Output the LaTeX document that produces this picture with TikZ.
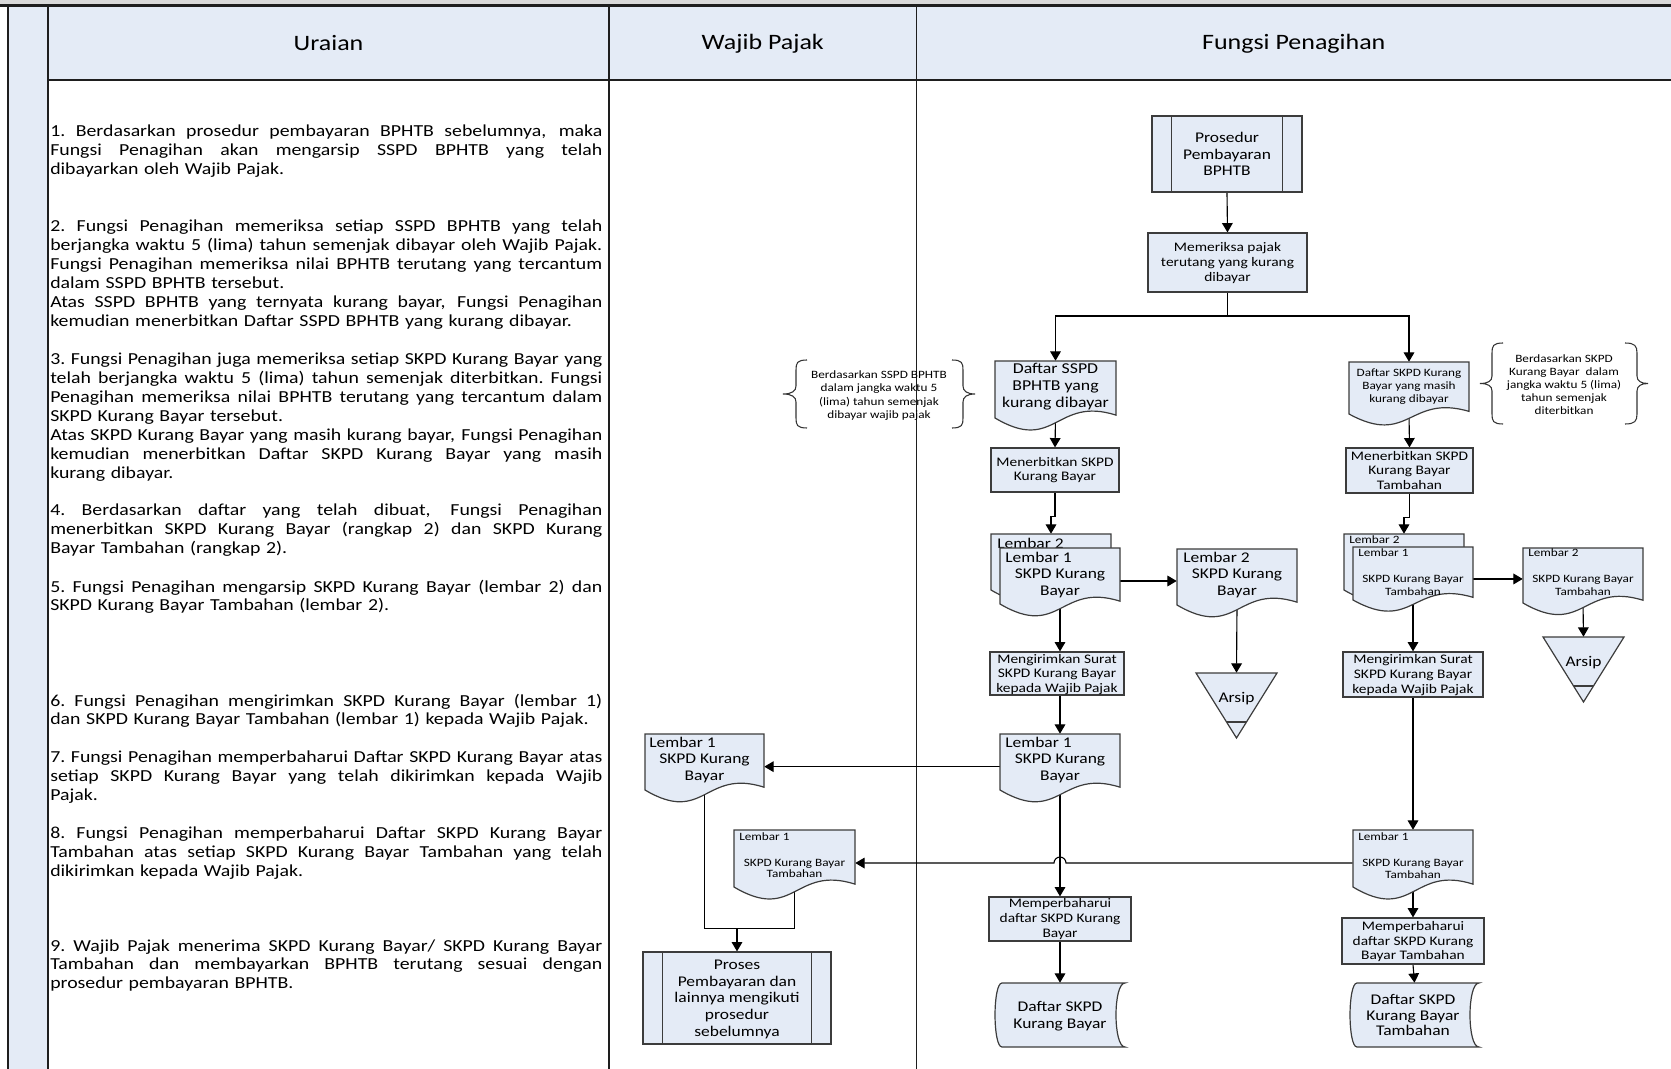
\documentclass[tikz,border=0pt]{standalone}
\usepackage{fontspec}
\setmainfont{Carlito}[FakeStretch=1.18]
\usetikzlibrary{arrows.meta,fit,calc}
\definecolor{boxfill}{RGB}{228,235,246}
\definecolor{lanecol}{RGB}{30,30,30}
\definecolor{shpcol}{RGB}{60,60,60}
\pgfdeclarelayer{bg}\pgfdeclarelayer{conn}\pgfsetlayers{bg,conn,main}
\newcommand\myHead{\fontsize{16.5}{20}\selectfont}
\newcommand\myBody{\fontsize{12.6}{14.14}\selectfont}
\newcommand\myMid{\fontsize{9.8}{11}\selectfont}
\newcommand\myBig{\fontsize{11.1}{12.5}\selectfont}
\newcommand\myTiny{\fontsize{8.4}{9.8}\selectfont}
\newcommand\JL[1]{\leavevmode\hbox to \linewidth{\spaceskip=0.15em plus 1fil\xspaceskip=0.15em plus 1fil\relax #1}}
\tikzset{
  shp/.style={draw=shpcol, fill=boxfill, line width=0.9pt},
  boxst/.style={shp, inner sep=0pt},
  inv/.style={inner sep=0pt, draw=none},
  lane/.style={draw=lanecol, line width=1.2pt},
  arr/.style={draw=black, line width=0.85pt, -{Triangle[length=7pt,width=8pt]}},
  cline/.style={draw=black, line width=0.85pt},
  lbl/.style={inner sep=0pt, align=center},
  lblw/.style={inner sep=0pt, anchor=west},
  item/.style={anchor=base west, inner sep=0pt, text width=414pt, align=left, font=\myBody},
  brc/.style={draw=black!80, line width=0.8pt},
  hdr/.style={inner sep=0pt, font=\myHead}
}
\newcommand\DocShape[5]{%
  \path[shp] (#2,#4) -- (#3,#4) -- (#3,{#5-0.05*(#5-#4)}) .. controls ({(#2+#3)/2},{#5-0.39*(#5-#4)}) and ({(#2+#3)/2},{#5+0.63*(#5-#4)}) .. (#2,#5) -- cycle;
  \node[inv, fit={(#2,#4) (#3,#5)}] (#1) {};
}
\newcommand\ArsipShape[6]{%
  \path[shp] (#2,#4) -- (#3,#4) -- ({(#2+#3)/2},#5) -- cycle;
  \draw[draw=shpcol, line width=0.9pt] ({(#2+#3)/2-(#3-#2)/2*(#5-#6)/(#5-#4)},#6) -- ({(#2+#3)/2+(#3-#2)/2*(#5-#6)/(#5-#4)},#6);
  \node[inv, fit={(#2,#4) (#3,#5)}] (#1) {};
}
\newcommand\StoredShape[5]{%
  \path[shp] ({#2+7},#4) -- (#3,#4) .. controls ({#3-12},#4) and ({#3-12},#5) .. (#3,#5) -- ({#2+7},#5) .. controls ({#2-2.3},#5) and ({#2-2.3},#4) .. ({#2+7},#4) -- cycle;
  \node[inv, fit={(#2,#4) (#3,#5)}] (#1) {};
}
\begin{document}
\begin{tikzpicture}[x=0.75pt,y=-0.75pt]
\useasboundingbox (0,0) rectangle (1671,1069);
\begin{pgfonlayer}{bg}
  \fill[black!15] (0,0) rectangle (1671,5);
  \fill[boxfill] (8,5) rectangle (48,1069);
  \fill[boxfill] (48,5) rectangle (1671,80);
  \draw[lane] (48,80) -- (1671,80);
  \draw[lane] (8,5) -- (8,1069);
  \draw[lane] (48,5) -- (48,1069);
  \draw[lane] (609,5) -- (609,1069);
  \draw[lane] (916.5,5) -- (916.5,1069);
  \draw[lane, line width=1.6pt] (0,5.5) -- (1671,5.5);
\end{pgfonlayer}

% headers
\node[hdr] (hU) at (328.5,43.5) {Uraian};
\node[hdr] (hW) at (762.75,43.5) {Wajib Pajak};
\node[hdr] (hF) at (1293.75,43.5) {Fungsi Penagihan};

% Uraian items
\node[item] (i1) at (50,137) {\JL{1. Berdasarkan prosedur pembayaran BPHTB sebelumnya, maka}\\\JL{Fungsi Penagihan akan mengarsip SSPD BPHTB yang telah}\\dibayarkan oleh Wajib Pajak.};
\node[item] (i2) at (50,232) {\JL{2. Fungsi Penagihan memeriksa setiap SSPD BPHTB yang telah}\\\JL{berjangka waktu 5 (lima) tahun semenjak dibayar oleh Wajib Pajak.}\\\JL{Fungsi Penagihan memeriksa nilai BPHTB terutang yang tercantum}\\dalam SSPD BPHTB tersebut.\\\JL{Atas SSPD BPHTB yang ternyata kurang bayar, Fungsi Penagihan}\\kemudian menerbitkan Daftar SSPD BPHTB yang kurang dibayar.};
\node[item] (i3) at (50,365) {\JL{3. Fungsi Penagihan juga memeriksa setiap SKPD Kurang Bayar yang}\\\JL{telah berjangka waktu 5 (lima) tahun semenjak diterbitkan. Fungsi}\\\JL{Penagihan memeriksa nilai BPHTB terutang yang tercantum dalam}\\SKPD Kurang Bayar tersebut.\\\JL{Atas SKPD Kurang Bayar yang masih kurang bayar, Fungsi Penagihan}\\\JL{kemudian menerbitkan Daftar SKPD Kurang Bayar yang masih}\\kurang dibayar.};
\node[item] (i4) at (50,516) {\JL{4. Berdasarkan daftar yang telah dibuat, Fungsi Penagihan}\\\JL{menerbitkan SKPD Kurang Bayar (rangkap 2) dan SKPD Kurang}\\Bayar Tambahan (rangkap 2).};
\node[item] (i5) at (50,592) {\JL{5. Fungsi Penagihan mengarsip SKPD Kurang Bayar (lembar 2) dan}\\SKPD Kurang Bayar Tambahan (lembar 2).};
\node[item] (i6) at (50,706) {\JL{6. Fungsi Penagihan mengirimkan SKPD Kurang Bayar (lembar 1)}\\dan SKPD Kurang Bayar Tambahan (lembar 1) kepada Wajib Pajak.};
\node[item] (i7) at (50,762.5) {\JL{7. Fungsi Penagihan memperbaharui Daftar SKPD Kurang Bayar atas}\\\JL{setiap SKPD Kurang Bayar yang telah dikirimkan kepada Wajib}\\Pajak.};
\node[item] (i8) at (50,838.5) {\JL{8. Fungsi Penagihan memperbaharui Daftar SKPD Kurang Bayar}\\\JL{Tambahan atas setiap SKPD Kurang Bayar Tambahan yang telah}\\dikirimkan kepada Wajib Pajak.};
\node[item] (i9) at (50,951) {\JL{9. Wajib Pajak menerima SKPD Kurang Bayar/ SKPD Kurang Bayar}\\\JL{Tambahan dan membayarkan BPHTB terutang sesuai dengan}\\prosedur pembayaran BPHTB.};

% Fungsi Penagihan top
\node[boxst, fit={(1152,116) (1302,192)}] (pros) {};
\draw[draw=shpcol, line width=0.9pt] ([xshift=15pt]pros.north west) -- ([xshift=15pt]pros.south west);
\draw[draw=shpcol, line width=0.9pt] ([xshift=-15pt]pros.north east) -- ([xshift=-15pt]pros.south east);
\node[lbl, font=\myBig] (prosT) at (1227,154) {Prosedur\\Pembayaran\\BPHTB};
\node[boxst, fit={(1148,233) (1307,292)}] (mem) {};
\node[lbl, font=\fontsize{9.8}{11.5}\selectfont] (memT) at (1227.5,263) {Memeriksa pajak\\terutang yang kurang\\dibayar};

% braces
\draw[brc] (807,360) .. controls (797,360) and (796,363) .. (796,370) -- (796,386) .. controls (796,391) and (792,394) .. (783,394) .. controls (792,394) and (796,397) .. (796,402) -- (796,418) .. controls (796,425) and (797,428) .. (807,428);
\draw[brc] (952,360) .. controls (962,360) and (963,363) .. (963,370) -- (963,386) .. controls (963,391) and (967,394) .. (975,394) .. controls (967,394) and (963,397) .. (963,402) -- (963,418) .. controls (963,425) and (962,428) .. (952,428);
\node[lbl, font=\fontsize{8.4}{9.9}\selectfont] (bt1) at (879,395.5) {Berdasarkan SSPD BPHTB\\dalam jangka waktu 5\\(lima) tahun semenjak\\dibayar wajib pajak};
\draw[brc] (1503,343) .. controls (1493,343) and (1492,346) .. (1492,353) -- (1492,376) .. controls (1492,381) and (1488,383.5) .. (1480,383.5) .. controls (1488,383.5) and (1492,386) .. (1492,391) -- (1492,414) .. controls (1492,421) and (1493,424) .. (1503,424);
\draw[brc] (1625,343) .. controls (1635,343) and (1637,346) .. (1637,353) -- (1637,376) .. controls (1637,381) and (1641,383.5) .. (1648,383.5) .. controls (1641,383.5) and (1637,386) .. (1637,391) -- (1637,414) .. controls (1637,421) and (1635,424) .. (1625,424);
\node[lbl, font=\fontsize{8.4}{9.7}\selectfont] (bt2) at (1564,384.5) {Berdasarkan SKPD\\Kurang Bayar\ \ dalam\\jangka waktu 5 (lima)\\tahun semenjak\\diterbitkan};

% daftar documents
\DocShape{dsspd}{995}{1116}{361}{418}
\node[lbl, font=\fontsize{11.3}{12.75}\selectfont] (dsspdT) at (1055.5,386.5) {Daftar SSPD\\BPHTB yang\\kurang dibayar};
\DocShape{dskpd}{1349}{1469}{362}{414}
\node[lbl, font=\myTiny] (dskpdT) at (1409,386.5) {Daftar SKPD Kurang\\Bayar yang masih\\kurang dibayar};

% menerbitkan
\node[boxst, fit={(991,448) (1119,492)}] (menL) {};
\node[lbl, font=\fontsize{9.8}{10.4}\selectfont] (menLT) at (1055,470) {Menerbitkan SKPD\\Kurang Bayar};
\node[boxst, fit={(1346,448) (1473,493)}] (menR) {};
\node[lbl, font=\myMid] (menRT) at (1409.5,470.5) {Menerbitkan SKPD\\Kurang Bayar\\Tambahan};

% stacked left
\DocShape{backL}{991}{1111}{534}{590}
\node[lblw, font=\myBig] at (997,543.5) {Lembar 2};
\DocShape{frontL}{1000}{1120}{548}{604}
\node[lblw, font=\myBig] at (1005,557.5) {Lembar 1};
\node[lbl, font=\myBig] at (1060,583.3) {SKPD Kurang\\Bayar};
\DocShape{l2L}{1177}{1297}{549}{605}
\node[lblw, font=\myBig] at (1183,557.5) {Lembar 2};
\node[lbl, font=\myBig] at (1237,583.3) {SKPD Kurang\\Bayar};
\ArsipShape{arsL}{1196}{1277}{673}{738}{722}
\node[lbl, font=\myBig] (arsLt) at (1236.5,699) {Arsip};

% stacked right
\DocShape{backR}{1344}{1464}{534}{590}
\node[lblw, font=\myTiny] at (1349,540) {Lembar 2};
\DocShape{frontR}{1353}{1473}{547}{600}
\node[lblw, font=\myTiny] at (1358,553) {Lembar 1};
\node[lbl, font=\fontsize{8.4}{9.75}\selectfont] at (1413,585) {SKPD Kurang Bayar\\Tambahan};
\DocShape{l2R}{1523}{1643}{548}{603}
\node[lblw, font=\myTiny] at (1528,553) {Lembar 2};
\node[lbl, font=\fontsize{8.4}{9.75}\selectfont] at (1583,585.5) {SKPD Kurang Bayar\\Tambahan};
\ArsipShape{arsR}{1543}{1624}{637}{702}{686}
\node[lbl, font=\myBig] (arsRt) at (1583.5,662.7) {Arsip};

% mengirimkan
\node[boxst, fit={(990,652) (1124,695)}] (mgL) {};
\node[lbl, font=\myMid] (mgLT) at (1057,674.5) {Mengirimkan Surat\\SKPD Kurang Bayar\\kepada Wajib Pajak};
\node[boxst, fit={(1343,652) (1483,697)}] (mgR) {};
\node[lbl, font=\myMid] (mgRT) at (1413,675) {Mengirimkan Surat\\SKPD Kurang Bayar\\kepada Wajib Pajak};

% lembar 1 docs
\DocShape{fpl1}{1000}{1120}{734}{790}
\node[lblw, font=\myBig] at (1005,742.5) {Lembar 1};
\node[lbl, font=\myBig] at (1060,768.2) {SKPD Kurang\\Bayar};
\DocShape{wpl1}{645}{764}{734}{790}
\node[lblw, font=\myBig] at (649,742.5) {Lembar 1};
\node[lbl, font=\myBig] at (704.5,768.2) {SKPD Kurang\\Bayar};
\DocShape{fpr}{1353}{1473}{830}{887}
\node[lblw, font=\myTiny] at (1358,836.5) {Lembar 1};
\node[lbl, font=\fontsize{8.4}{8.8}\selectfont] at (1413,869) {SKPD Kurang Bayar\\Tambahan};
\DocShape{wpt}{734}{855}{830}{887}
\node[lblw, font=\myTiny] at (739,836.5) {Lembar 1};
\node[lbl, font=\fontsize{8.4}{8.8}\selectfont] at (794.5,868.5) {SKPD Kurang Bayar\\Tambahan};

% memperbaharui
\node[boxst, fit={(989,897) (1131,941)}] (mem1) {};
\node[lbl, font=\fontsize{9.8}{11.25}\selectfont] (mem1T) at (1060,919.3) {Memperbaharui\\daftar SKPD Kurang\\Bayar};
\node[boxst, fit={(1342,918) (1484,964)}] (mem2) {};
\node[lbl, font=\myMid] (mem2T) at (1413,941.8) {Memperbaharui\\daftar SKPD Kurang\\Bayar Tambahan};

% stored data
\StoredShape{dL}{995}{1125}{983}{1047}
\node[lbl, font=\myBig] (dLT) at (1060,1016) {Daftar SKPD\\Kurang Bayar};
\StoredShape{dR}{1350}{1479}{983}{1047}
\node[lbl, font=\fontsize{11.1}{11.9}\selectfont] (dRT) at (1413,1015) {Daftar SKPD\\Kurang Bayar\\Tambahan};

% proses (Wajib Pajak)
\node[boxst, fit={(643,952) (831,1044)}] (proses) {};
\draw[draw=shpcol, line width=0.9pt] ([xshift=15pt]proses.north west) -- ([xshift=15pt]proses.south west);
\draw[draw=shpcol, line width=0.9pt] ([xshift=-15pt]proses.north east) -- ([xshift=-15pt]proses.south east);
\node[lbl, font=\fontsize{11.1}{12.6}\selectfont] (prosesT) at (737,999.3) {Proses\\Pembayaran dan\\lainnya mengikuti\\prosedur\\sebelumnya};

% connectors
\begin{pgfonlayer}{conn}
  \draw[arr] (pros.south) -- (mem.north);
  \coordinate (sp) at (1227.5,316);
  \draw[cline] (mem.south) -- (sp);
  \draw[arr] (sp) -| (dsspd.north);
  \draw[arr] (sp) -| (dskpd.north);
  \draw[arr] (dsspd.south) -- (menL.north);
  \draw[arr] (dskpd.south) -- (menR.north);
  \draw[arr] (menL.south) -- ++(0,24) -| (backL.north);
  \draw[arr] (menR.south) -- ++(0,24) -| (backR.north);
  \coordinate (a1) at ([yshift=-3.75pt]frontL.east);
  \draw[arr] (a1) -- (a1 -| l2L.west);
  \draw[arr] (l2L.south) -- (arsL.north);
  \coordinate (a2) at ([yshift=-4.1pt]frontR.east);
  \draw[arr] (a2) -- (a2 -| l2R.west);
  \draw[arr] (l2R.south) -- (arsR.north);
  \draw[arr] (frontL.south) -- (frontL.south |- mgL.north);
  \draw[arr] (frontR.south) -- (frontR.south |- mgR.north);
  \draw[arr] (fpl1.north |- mgL.south) -- (fpl1.north);
  \draw[arr] (mgR.south) -- (fpr.north);
  \coordinate (a3) at ([yshift=-3.5pt]fpl1.west);
  \draw[arr] (a3) -- (a3 -| wpl1.east);
  \draw[arr] (fpl1.south) -- (mem1.north);
  \draw[arr] (mem1.south) -- (dL.north);
  \draw[arr] (fpr.south) -- (mem2.north);
  \draw[arr] (mem2.south) -- (dR.north);
  \coordinate (a4) at ([yshift=-3.4pt]fpr.west);
  \coordinate (hop) at (a4 -| fpl1.south);
  \draw[arr] (a4) -- ([xshift=4.5pt]hop) arc[start angle=0,end angle=180,radius=4.5pt] -- (a4 -| wpt.east);
  \coordinate (jn) at (737,928.7);
  \draw[cline] (wpl1.south) |- (jn);
  \draw[cline] (wpt.south) |- (jn);
  \draw[arr] (jn) -- (proses.north);
\end{pgfonlayer}
\end{tikzpicture}
\end{document}
